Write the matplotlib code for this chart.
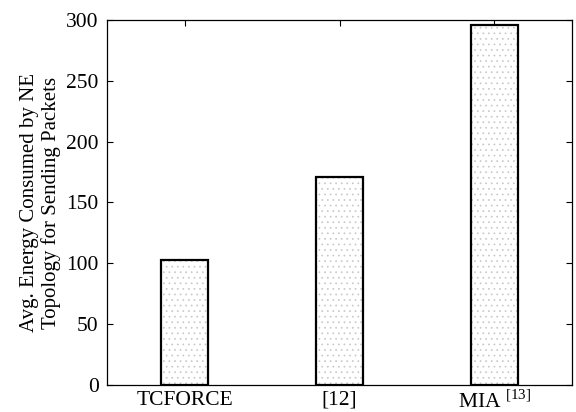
import numpy as np
import matplotlib
matplotlib.use('Agg')
import matplotlib.pyplot as plt

plt.rcParams['font.family'] = ['Liberation Serif', 'DejaVu Serif']
plt.rcParams['mathtext.fontset'] = 'custom'
plt.rcParams['mathtext.rm'] = 'Liberation Serif'
plt.rcParams['hatch.linewidth'] = 0.5

# datos
methods = ['TCFORCE', '[12]', 'MIA $^{[13]}$']
energy = [103, 171, 296]

fig = plt.figure(figsize=(5.76, 4.12), dpi=100)
ax = fig.add_axes([0.186, 0.0655, 0.807, 0.886])

x = np.arange(1, len(methods) + 1)
ax.bar(x, energy, width=0.3, facecolor='white', edgecolor='black',
       linewidth=1.6, hatch='...', zorder=2)
for p in ax.patches:
    p._hatch_color = (0.78, 0.78, 0.78, 1.0)

ax.set_xlim(0.5, 3.5)
ax.set_ylim(0, 300)
ax.set_xticks(x)
ax.set_xticklabels(methods, fontsize=15.5)
ax.set_yticks(np.arange(0, 301, 50))
ax.tick_params(axis='y', labelsize=15.5, pad=6)
ax.tick_params(axis='x', pad=4)
ax.tick_params(direction='in', top=True, right=True, length=4, width=0.8)
for s in ax.spines.values():
    s.set_linewidth(0.9)

ax.set_ylabel('Avg. Energy Consumed by NE\nTopology for Sending Packets', fontsize=15,
              linespacing=1.15)
ax.yaxis.set_label_coords(-0.1, 0.5)

fig.savefig('out.png', dpi=100)
